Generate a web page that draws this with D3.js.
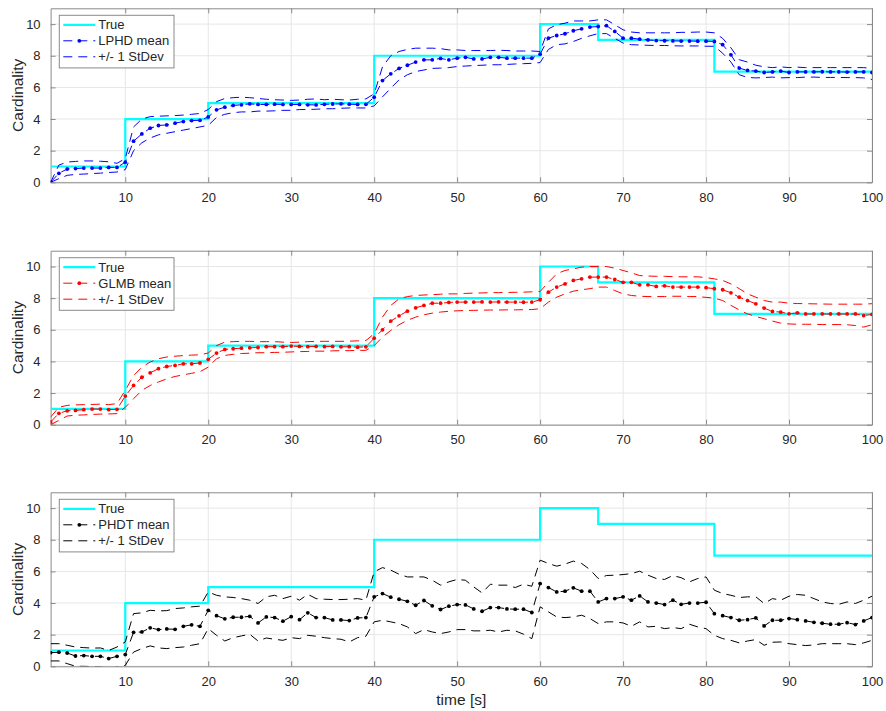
<!DOCTYPE html>
<html>
<head>
<meta charset="utf-8">
<script src="https://cdn.jsdelivr.net/npm/d3@7"></script>
<style>
  html, body { margin: 0; padding: 0; background: #fff; }
  svg { display: block; font-family: "Liberation Sans", Arial, Helvetica, sans-serif; }
</style>
</head>
<body>
<svg id="chart" width="886" height="711"></svg>
<script>
// ---------- DATA ----------
const time = d3.range(1, 101);
const xTicks = [10, 20, 30, 40, 50, 60, 70, 80, 90, 100];
const yTicks = [0, 2, 4, 6, 8, 10];

const truth = [
  1,1,1,1,1,1,1,1,1,4,
  4,4,4,4,4,4,4,4,4,5,
  5,5,5,5,5,5,5,5,5,5,
  5,5,5,5,5,5,5,5,5,8,
  8,8,8,8,8,8,8,8,8,8,
  8,8,8,8,8,8,8,8,8,10,
  10,10,10,10,10,10,9,9,9,9,
  9,9,9,9,9,9,9,9,9,9,
  7,7,7,7,7,7,7,7,7,7,
  7,7,7,7,7,7,7,7,7,7
];

const lphdMean = [
  0,0.57,0.84,0.87,0.9,0.9,0.9,0.94,0.94,1.27,
  2.6,3.06,3.42,3.59,3.63,3.74,3.84,3.9,3.92,4.13,
  4.58,4.75,4.86,4.9,4.96,4.92,4.92,4.94,4.92,4.92,
  4.92,4.9,4.89,4.93,4.95,4.96,4.94,4.92,4.93,5.38,
  6.43,6.86,7.2,7.4,7.6,7.74,7.74,7.83,7.74,7.85,
  7.9,7.8,7.8,7.9,7.9,7.85,7.85,7.85,7.85,8.1,
  9.11,9.28,9.39,9.58,9.7,9.81,9.85,9.9,9.54,9.11,
  9.11,9.05,9.0,8.96,8.95,8.94,8.93,8.93,8.92,8.92,
  8.9,8.7,8.06,7.22,7.07,7.03,6.94,6.98,7.03,6.94,
  6.98,6.98,6.98,6.99,6.98,6.98,6.97,6.98,6.98,6.94
];
const lphdUpper = [
  0,1.09,1.28,1.32,1.35,1.35,1.33,1.3,1.2,1.5,
  3.5,4.0,4.15,4.18,4.2,4.22,4.25,4.3,4.35,4.6,
  5.1,5.3,5.35,5.38,5.35,5.3,5.25,5.22,5.2,5.18,
  5.2,5.25,5.27,5.22,5.25,5.22,5.2,5.25,5.27,5.6,
  7.3,8.0,8.27,8.4,8.48,8.48,8.48,8.45,8.37,8.37,
  8.33,8.33,8.33,8.33,8.35,8.33,8.3,8.3,8.3,8.27,
  9.7,9.96,10.06,10.2,10.2,10.2,10.27,10.27,9.96,9.64,
  9.5,9.45,9.45,9.45,9.45,9.45,9.48,9.48,9.5,9.5,
  9.45,9.1,8.5,7.75,7.6,7.4,7.3,7.25,7.3,7.25,
  7.28,7.25,7.25,7.25,7.25,7.25,7.25,7.25,7.25,7.2
];
const lphdLower = [
  0,0.23,0.44,0.5,0.52,0.55,0.58,0.62,0.65,0.8,
  2.0,2.5,2.8,3.0,3.1,3.2,3.3,3.4,3.5,3.6,
  4.1,4.3,4.4,4.45,4.45,4.5,4.5,4.52,4.55,4.55,
  4.6,4.6,4.62,4.65,4.65,4.68,4.7,4.7,4.7,4.83,
  5.4,5.95,6.48,6.8,7.0,7.1,7.2,7.22,7.25,7.32,
  7.35,7.38,7.4,7.43,7.43,7.45,7.48,7.5,7.52,7.57,
  8.4,8.7,8.75,8.9,9.1,9.26,9.4,9.4,9.1,8.8,
  8.7,8.68,8.66,8.65,8.65,8.63,8.62,8.62,8.62,8.6,
  8.6,8.16,7.6,6.8,6.63,6.6,6.62,6.65,6.6,6.62,
  6.62,6.65,6.65,6.63,6.63,6.63,6.62,6.62,6.6,6.5
];

const glmbMean = [
  0.17,0.72,0.88,0.9,0.95,0.99,0.99,0.95,0.97,1.81,
  2.48,3.0,3.28,3.54,3.68,3.75,3.85,3.85,3.9,4.13,
  4.53,4.76,4.8,4.84,4.86,4.88,4.93,4.93,4.93,4.97,
  4.95,4.93,4.95,4.93,4.95,4.92,4.93,4.9,4.92,5.47,
  6.0,6.55,6.88,7.18,7.39,7.54,7.68,7.68,7.73,7.75,
  7.75,7.75,7.76,7.75,7.76,7.75,7.75,7.74,7.75,7.9,
  8.38,8.7,8.9,9.12,9.22,9.33,9.33,9.33,9.18,9.0,
  9.0,8.84,8.84,8.74,8.78,8.7,8.7,8.7,8.7,8.66,
  8.6,8.53,8.34,8.06,7.85,7.64,7.37,7.16,7.12,7.01,
  7.07,7.0,7.0,7.0,7.0,7.0,7.0,7.0,6.9,6.97
];
const glmbUpper = [
  0.48,1.1,1.22,1.25,1.27,1.28,1.3,1.27,1.33,2.17,
  3.1,3.64,3.96,4.17,4.28,4.33,4.37,4.4,4.42,4.53,
  5.0,5.22,5.25,5.27,5.27,5.25,5.25,5.25,5.22,5.2,
  5.22,5.25,5.27,5.27,5.27,5.27,5.28,5.3,5.32,5.75,
  6.8,7.54,7.96,8.1,8.17,8.2,8.22,8.25,8.27,8.27,
  8.3,8.32,8.33,8.35,8.35,8.36,8.37,8.38,8.4,8.42,
  9.0,9.54,9.75,9.85,9.96,10.0,10.0,10.0,9.9,9.75,
  9.6,9.43,9.4,9.38,9.38,9.36,9.35,9.35,9.35,9.3,
  9.22,9.12,8.9,8.6,8.27,8.06,7.85,7.75,7.75,7.68,
  7.66,7.65,7.64,7.63,7.62,7.62,7.62,7.62,7.62,7.65
];
const glmbLower = [
  0.0,0.27,0.55,0.6,0.62,0.65,0.67,0.68,0.7,1.1,
  1.64,2.17,2.48,2.7,2.9,3.05,3.15,3.25,3.35,3.64,
  4.17,4.38,4.45,4.5,4.52,4.55,4.55,4.57,4.58,4.6,
  4.62,4.63,4.65,4.65,4.67,4.68,4.68,4.7,4.7,5.0,
  5.54,5.96,6.32,6.6,6.8,6.95,7.05,7.12,7.17,7.2,
  7.22,7.23,7.24,7.25,7.25,7.26,7.26,7.27,7.28,7.33,
  7.75,8.06,8.27,8.44,8.53,8.6,8.7,8.7,8.48,8.27,
  8.17,8.12,8.1,8.1,8.1,8.12,8.12,8.1,8.1,8.05,
  8.0,7.85,7.54,7.26,7.0,6.84,6.7,6.55,6.42,6.37,
  6.35,6.35,6.35,6.33,6.33,6.33,6.32,6.27,6.17,6.32
];

const phdtMean = [
  0.86,0.89,0.84,0.65,0.68,0.63,0.63,0.49,0.63,0.74,
  2.15,2.17,2.43,2.32,2.36,2.34,2.53,2.62,2.53,3.54,
  3.2,3.0,3.1,3.1,3.16,2.74,3.12,3.08,2.85,3.14,
  2.95,3.38,3.08,3.08,2.93,2.93,2.89,3.06,3.08,4.39,
  4.6,4.37,4.24,4.11,3.86,4.16,3.82,3.59,3.8,3.9,
  3.88,3.63,3.48,3.71,3.71,3.63,3.61,3.61,3.4,5.23,
  4.98,4.7,4.75,4.96,4.75,4.75,4.07,4.28,4.28,4.39,
  4.18,4.45,4.07,4.0,3.9,4.18,3.92,4.0,4.0,4.05,
  3.33,3.2,3.08,2.91,2.95,3.06,2.55,2.91,2.91,3.02,
  2.95,2.87,2.78,2.72,2.66,2.66,2.76,2.64,2.87,3.08
];
const phdtUpper = [
  1.43,1.43,1.33,1.22,1.18,1.15,1.16,1.0,1.22,1.54,
  3.33,3.38,3.54,3.5,3.52,3.65,3.69,3.76,3.8,4.7,
  4.49,4.39,4.35,4.28,4.18,3.97,4.39,4.49,4.28,4.43,
  4.18,4.55,4.28,4.24,4.22,4.22,4.24,4.28,4.18,5.97,
  6.24,6.08,5.82,5.65,5.65,5.65,5.44,5.13,5.34,5.49,
  5.44,5.02,4.64,5.19,5.13,5.13,4.98,5.19,5.06,6.71,
  6.5,6.33,6.46,6.65,6.5,6.12,5.55,5.74,5.76,5.8,
  5.86,6.01,5.76,5.55,5.49,5.74,5.6,5.34,5.55,5.65,
  4.81,4.6,4.49,4.35,4.39,4.39,3.97,4.28,4.18,4.43,
  4.54,4.49,4.28,4.07,3.97,3.92,4.07,3.97,4.18,4.43
];
const phdtLower = [
  0.34,0.34,0.17,0.0,0.0,-0.02,-0.04,-0.15,-0.04,0.06,
  0.9,1.12,1.29,1.16,1.12,1.18,1.22,1.33,1.43,2.38,
  1.96,1.6,1.81,1.92,2.03,1.6,1.79,1.71,1.64,1.81,
  1.75,1.96,1.9,1.81,1.75,1.71,1.54,1.81,1.9,2.81,
  2.91,2.81,2.7,2.49,2.07,2.32,2.17,2.07,2.17,2.32,
  2.32,2.24,2.24,2.28,2.17,2.28,2.24,2.03,1.75,3.76,
  3.44,3.12,3.08,3.12,3.23,3.02,2.7,2.81,2.81,2.74,
  2.53,2.81,2.49,2.53,2.38,2.45,2.38,2.66,2.49,2.38,
  1.96,1.75,1.64,1.48,1.6,1.69,1.33,1.52,1.54,1.43,
  1.37,1.31,1.35,1.43,1.43,1.43,1.43,1.37,1.48,1.64
];

const panelNames = ["LPHD mean", "GLMB mean", "PHDT mean"];
const panelColors = ["#0000ff", "#ff0000", "#000000"];
const trueColor = "#00ffff";
const stdLabel = "+/- 1 StDev";
const trueLabel = "True";
const yLabel = "Cardinality";
const xLabel = "time [s]";

const panels = [
  { name: panelNames[0], color: panelColors[0], mean: lphdMean, upper: lphdUpper, lower: lphdLower },
  { name: panelNames[1], color: panelColors[1], mean: glmbMean, upper: glmbUpper, lower: glmbLower },
  { name: panelNames[2], color: panelColors[2], mean: phdtMean, upper: phdtUpper, lower: phdtLower }
];

// ---------- LAYOUT ----------
const svg = d3.select("#chart");
const left = 50.6, right = 872;
const tops = [8.3, 250.7, 492.3];
const plotH = 174;
const textColor = "#262626";
const axisColor = "#8a8a8a";
const gridColor = "#e6e6e6";
const dash = "9,6";
const smallFont = "13px";
const labelFont = "15.5px";

const x = d3.scaleLinear().domain([1, 100]).range([left, right]);

panels.forEach((p, i) => {
  const top = tops[i], bottom = top + plotH;
  const y = d3.scaleLinear().domain([0, 11]).range([bottom, top]);
  const g = svg.append("g");

  const clipId = "clip" + i;
  svg.append("clipPath").attr("id", clipId)
    .append("rect").attr("x", left).attr("y", top).attr("width", right - left).attr("height", plotH);

  // grid
  g.append("g").selectAll("line").data(xTicks).join("line")
    .attr("x1", d => x(d)).attr("x2", d => x(d)).attr("y1", top).attr("y2", bottom)
    .attr("stroke", gridColor).attr("stroke-width", 1);
  g.append("g").selectAll("line").data(yTicks).join("line")
    .attr("x1", left).attr("x2", right).attr("y1", d => y(d)).attr("y2", d => y(d))
    .attr("stroke", gridColor).attr("stroke-width", 1);

  // axes
  const xAxisB = d3.axisBottom(x).tickValues(xTicks).tickSize(-5).tickPadding(10).tickSizeOuter(0);
  const xAxisT = d3.axisTop(x).tickValues(xTicks).tickSize(-5).tickFormat("").tickSizeOuter(0);
  const yAxisL = d3.axisLeft(y).tickValues(yTicks).tickSize(-5).tickPadding(10).tickSizeOuter(0);
  const yAxisR = d3.axisRight(y).tickValues(yTicks).tickSize(-5).tickFormat("").tickSizeOuter(0);

  const styleAxis = sel => {
    sel.select(".domain").attr("stroke", axisColor);
    sel.selectAll(".tick line").attr("stroke", axisColor);
    sel.selectAll(".tick text").attr("fill", textColor).style("font-size", smallFont)
      .style("font-family", "'Liberation Sans', Arial, Helvetica, sans-serif");
  };
  g.append("g").attr("transform", `translate(0,${bottom})`).call(xAxisB).call(styleAxis);
  g.append("g").attr("transform", `translate(0,${top})`).call(xAxisT).call(styleAxis);
  g.append("g").attr("transform", `translate(${left},0)`).call(yAxisL).call(styleAxis);
  g.append("g").attr("transform", `translate(${right},0)`).call(yAxisR).call(styleAxis);

  // y label
  g.append("text")
    .attr("transform", `translate(23,${(top + bottom) / 2}) rotate(-90)`)
    .attr("text-anchor", "middle").attr("fill", textColor)
    .style("font-size", labelFont).text(yLabel);

  const data = g.append("g").attr("clip-path", `url(#${clipId})`);

  // truth
  const stepLine = d3.line().x((d, k) => x(time[k])).y(d => y(d)).curve(d3.curveStepAfter);
  data.append("path").datum(truth).attr("d", stepLine)
    .attr("fill", "none").attr("stroke", trueColor).attr("stroke-width", 2.2);

  const line = d3.line().x((d, k) => x(time[k])).y(d => y(d));
  // mean dashed + dots
  data.append("path").datum(p.mean).attr("d", line)
    .attr("fill", "none").attr("stroke", p.color).attr("stroke-width", 1)
    .attr("stroke-dasharray", dash);
  data.append("g").selectAll("circle").data(p.mean).join("circle")
    .attr("cx", (d, k) => x(time[k])).attr("cy", d => y(d)).attr("r", 1.9)
    .attr("fill", p.color);
  // std
  [p.upper, p.lower].forEach(arr => {
    data.append("path").datum(arr).attr("d", line)
      .attr("fill", "none").attr("stroke", p.color).attr("stroke-width", 1)
      .attr("stroke-dasharray", dash);
  });

  // legend
  const lx = 59.3, ly = top + 7, lw = 114.7, lh = 52.6;
  const lg = g.append("g");
  lg.append("rect").attr("x", lx).attr("y", ly).attr("width", lw).attr("height", lh)
    .attr("fill", "#fff").attr("stroke", axisColor).attr("stroke-width", 1);
  const rows = [
    { label: trueLabel, type: "true" },
    { label: p.name, type: "mean" },
    { label: stdLabel, type: "std" }
  ];
  rows.forEach((r, k) => {
    const ry = ly + 9.5 + k * 16;
    const x1 = lx + 4, x2 = lx + 36;
    if (r.type === "true") {
      lg.append("line").attr("x1", x1).attr("x2", x2).attr("y1", ry).attr("y2", ry)
        .attr("stroke", trueColor).attr("stroke-width", 2.2);
    } else {
      lg.append("line").attr("x1", x1).attr("x2", x2).attr("y1", ry).attr("y2", ry)
        .attr("stroke", p.color).attr("stroke-width", 1).attr("stroke-dasharray", dash);
      if (r.type === "mean") {
        lg.append("circle").attr("cx", (x1 + x2) / 2).attr("cy", ry).attr("r", 1.9).attr("fill", p.color);
      }
    }
    lg.append("text").attr("x", lx + 39).attr("y", ry).attr("dy", "0.36em")
      .attr("fill", textColor).style("font-size", smallFont).text(r.label);
  });

  if (i === 2) {
    g.append("text").attr("x", (left + right) / 2).attr("y", bottom + 39)
      .attr("text-anchor", "middle").attr("fill", textColor)
      .style("font-size", labelFont).text(xLabel);
  }
});
</script>
</body>
</html>
